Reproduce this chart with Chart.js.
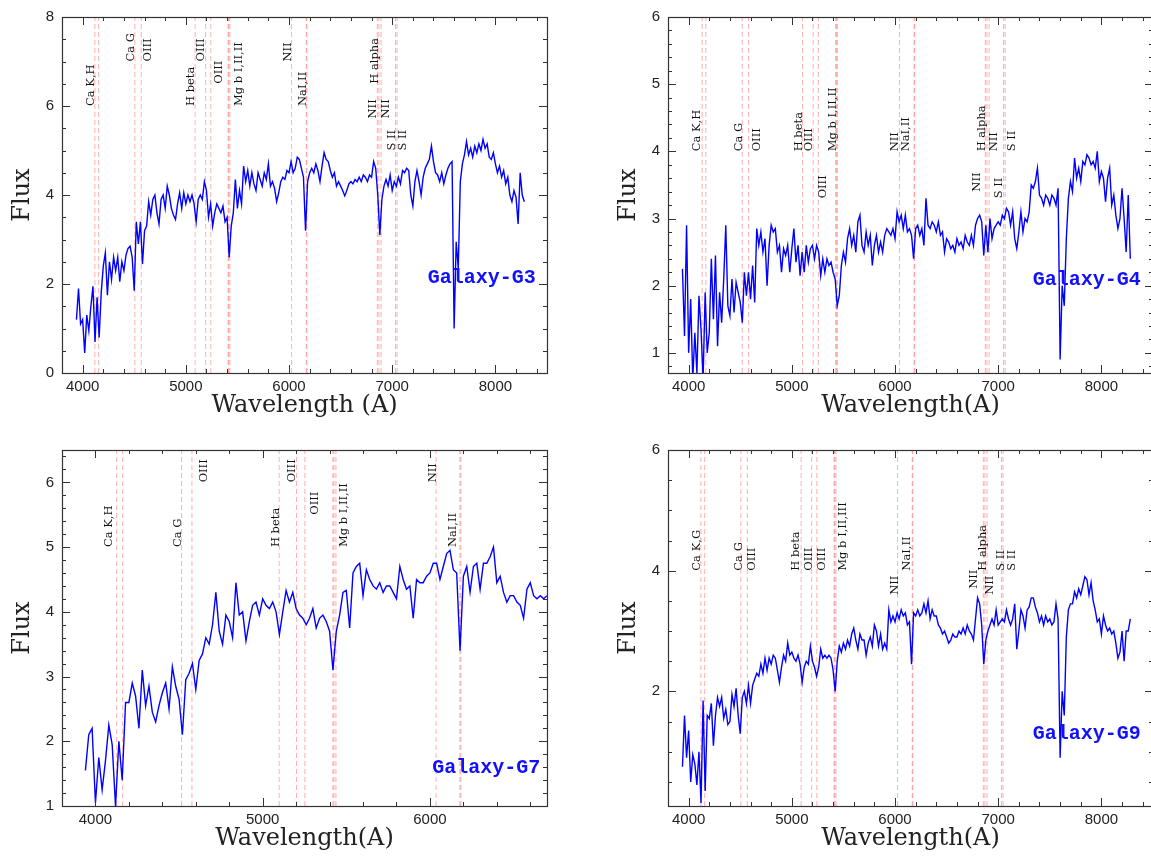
<!DOCTYPE html>
<html>
<head>
<meta charset="utf-8">
<script src="https://cdn.jsdelivr.net/npm/chart.js"></script>
<style>
  html, body { margin: 0; padding: 0; background: #fff; overflow: hidden; width: 1151px; height: 856px; }
  canvas { position: absolute; }
</style>
</head>
<body>
<canvas id="g3" width="560" height="423" style="left:0;top:0"></canvas>
<canvas id="g4" width="560" height="423" style="left:606px;top:0"></canvas>
<canvas id="g7" width="560" height="423" style="left:0;top:433px"></canvas>
<canvas id="g9" width="560" height="423" style="left:606px;top:433px"></canvas>
<script>
const waveStart = 3940;
const waveStep = 20;

const fluxG3 = [
  1.2, 1.9, 1.1, 1.2, 0.45, 1.3, 0.95, 1.5, 1.95, 0.7,      // 3940
  1.7, 0.8, 1.8, 2.4, 2.7, 1.75, 2.5, 2.1, 2.6, 2.3,        // 4140
  2.6, 2.05, 2.5, 2.3, 2.65, 2.8, 2.85, 2.6, 1.85, 3.4,     // 4340
  2.9, 3.4, 2.45, 3.2, 3.3, 3.85, 3.55, 3.9, 4.0, 3.6,      // 4540
  3.35, 3.9, 4.0, 3.7, 4.2, 4.0, 3.7, 3.55, 3.45, 3.8,      // 4740
  4.05, 3.7, 4.05, 3.8, 4.0, 3.85, 4.0, 3.8, 3.4, 3.9,      // 4940
  4.0, 3.9, 4.3, 4.1, 3.5, 3.8, 3.3, 3.6, 3.8, 3.7,         // 5140
  3.6, 3.75, 3.4, 3.5, 2.6, 3.3, 3.6, 4.35, 3.7, 4.1,       // 5340
  3.8, 4.65, 4.3, 4.55, 4.2, 4.5, 4.25, 4.1, 4.5, 4.35,     // 5540
  4.2, 4.5, 4.35, 4.7, 4.2, 4.3, 4.15, 3.85, 4.05, 4.3,     // 5740
  4.4, 4.35, 4.55, 4.5, 4.75, 4.5, 4.6, 4.85, 4.8, 4.6,     // 5940
  4.4, 3.2, 4.3, 4.5, 4.6, 4.5, 4.7, 4.55, 4.3, 4.65,       // 6140
  4.95, 4.8, 4.75, 4.55, 4.4, 4.5, 4.2, 4.3, 4.2, 4.1,      // 6340
  3.98, 4.1, 4.25, 4.3, 4.25, 4.35, 4.3, 4.4, 4.3, 4.45,    // 6540
  4.4, 4.3, 4.45, 4.4, 4.75, 4.6, 4.0, 3.1, 3.9, 4.2,       // 6740
  4.35, 4.2, 4.45, 4.1, 4.3, 4.2, 4.4, 4.25, 4.55, 4.5,     // 6940
  4.6, 4.55, 4.0, 3.75, 4.3, 4.55, 4.3, 4.0, 4.4, 4.6,      // 7140
  4.7, 4.8, 5.1, 4.75, 4.5, 4.45, 4.3, 4.5, 4.25, 4.45,     // 7340
  4.6, 4.7, 4.75, 1.0, 2.95, 2.35, 4.3, 4.7, 4.9, 5.2,      // 7540
  4.9, 5.05, 4.85, 5.1, 4.95, 5.15, 5.0, 5.25, 5.05, 5.15,  // 7740
  4.85, 4.8, 4.95, 4.7, 4.5, 4.65, 4.4, 4.55, 4.25, 4.4,    // 7940
  4.0, 3.85, 4.1, 3.95, 3.35, 4.5, 4.0, 3.85                // 8140
];

const fluxG4 = [
  2.25, 1.25, 2.9, 1.0, 1.8, 0.6, 1.3, 0.7, 1.85, 1.35,     // 3940
  0.6, 1.9, 1.0, 1.3, 2.4, 1.5, 2.45, 1.1, 1.9, 1.45,       // 4140
  2.1, 2.9, 1.7, 1.55, 2.1, 1.6, 2.05, 1.9, 1.75, 1.45,     // 4340
  2.2, 1.85, 2.2, 1.8, 2.3, 1.75, 2.85, 2.6, 2.8, 2.5,      // 4540
  2.7, 2.0, 2.6, 2.9, 2.8, 2.85, 2.5, 2.6, 2.2, 2.55,       // 4740
  2.45, 2.6, 2.2, 2.55, 2.85, 2.35, 2.6, 2.15, 2.5, 2.2,    // 4940
  2.6, 2.35, 2.55, 2.6, 2.4, 2.6, 2.5, 2.15, 2.4, 2.2,      // 5140
  2.4, 2.3, 2.35, 2.2, 2.1, 1.7, 1.85, 2.3, 2.5, 2.35,      // 5340
  2.7, 2.85, 2.6, 2.75, 2.5, 2.95, 3.05, 2.6, 2.5, 2.8,     // 5540
  2.6, 2.75, 2.3, 2.6, 2.75, 2.5, 2.65, 2.5, 2.75, 2.85,    // 5740
  2.8, 2.75, 2.85, 2.7, 3.1, 2.95, 3.05, 2.85, 3.05, 2.8,   // 5940
  2.85, 2.75, 2.4, 2.85, 2.9, 2.75, 2.85, 2.6, 3.3, 2.9,    // 6140
  2.85, 2.95, 2.9, 2.8, 2.95, 2.75, 2.8, 2.5, 2.7, 2.65,    // 6340
  2.55, 2.6, 2.5, 2.7, 2.6, 2.65, 2.55, 2.75, 2.65, 2.6,    // 6540
  2.75, 2.6, 2.9, 3.0, 3.05, 2.95, 2.45, 2.9, 2.5, 3.0,     // 6740
  2.7, 2.85, 2.9, 2.95, 2.9, 3.05, 3.0, 3.15, 3.1, 2.9,     // 6940
  3.1, 2.7, 2.55, 2.8, 3.1, 2.8, 3.0, 2.95, 3.1, 3.5,       // 7140
  3.45, 3.55, 3.75, 3.35, 3.3, 3.2, 3.35, 3.3, 3.2, 3.35,   // 7340
  3.3, 3.2, 3.45, 0.9, 2.0, 1.7, 2.7, 3.3, 3.55, 3.4,       // 7540
  3.9, 3.6, 3.75, 3.55, 3.85, 3.8, 3.95, 3.9, 3.8, 3.85,    // 7740
  3.75, 4.0, 3.55, 3.7, 3.6, 3.25, 3.6, 3.75, 3.2, 3.35,    // 7940
  3.05, 2.85, 3.0, 3.45, 3.0, 2.5, 3.35, 2.4                // 8140
];

const fluxG7 = [
  1.55, 2.1, 2.2, 1.05, 1.75, 1.25, 1.7, 2.25, 1.95, 1.0,   // 3940
  2.0, 1.4, 2.6, 2.6, 2.9, 2.7, 2.2, 3.1, 2.55, 2.85,       // 4140
  2.45, 2.3, 2.55, 2.75, 2.9, 2.5, 3.15, 2.85, 2.65, 2.1,   // 4340
  2.95, 3.05, 3.2, 2.8, 3.25, 3.35, 3.6, 3.5, 3.8, 4.3,     // 4540
  3.7, 3.5, 3.95, 3.85, 3.6, 4.45, 3.95, 4.0, 3.55, 3.85,   // 4740
  4.1, 4.15, 3.95, 4.2, 4.1, 4.05, 4.15, 4.0, 3.65, 4.0,    // 4940
  4.33, 4.15, 4.3, 4.05, 3.95, 3.9, 3.8, 3.9, 4.05, 3.75,   // 5140
  3.9, 3.95, 3.85, 3.7, 3.1, 3.7, 3.95, 4.3, 4.33, 3.75,    // 5340
  4.6, 4.7, 4.75, 4.25, 4.65, 4.5, 4.4, 4.35, 4.45, 4.3,    // 5540
  4.4, 4.4, 4.3, 4.2, 4.7, 4.5, 4.35, 4.4, 3.9, 4.5,        // 5740
  4.45, 4.45, 4.55, 4.6, 4.75, 4.75, 4.5, 4.7, 4.9, 4.95,   // 5940
  4.65, 4.6, 3.4, 4.55, 4.7, 4.3, 4.7, 4.75, 4.35, 4.75,    // 6140
  4.75, 4.85, 5.0, 4.45, 4.55, 4.3, 4.15, 4.25, 4.25, 4.15, // 6340
  4.1, 3.9, 4.35, 4.45, 4.25, 4.2, 4.25, 4.2, 4.25, 4.2     // 6540
];

const fluxG9 = [
  0.75, 1.6, 0.9, 1.35, 0.5, 0.95, 0.8, 0.45, 1.0, 0.15,    // 3940
  1.85, 0.35, 1.6, 1.55, 1.8, 1.1, 1.6, 1.9, 1.75, 1.9,     // 4140
  1.55, 1.7, 1.45, 1.5, 1.95, 1.75, 2.05, 1.6, 1.3, 1.9,    // 4340
  2.0, 1.8, 2.1, 1.8, 2.1, 2.2, 2.3, 2.25, 2.45, 2.3,       // 4540
  2.55, 2.35, 2.55, 2.45, 2.6, 2.55, 2.35, 2.15, 2.4, 2.6,  // 4740
  2.5, 2.8, 2.6, 2.65, 2.55, 2.5, 2.6, 2.45, 2.15, 2.4,     // 4940
  2.5, 2.45, 2.75, 2.5, 2.4, 2.25, 2.4, 2.7, 2.55, 2.6,     // 5140
  2.55, 2.6, 2.55, 2.35, 2.0, 2.5, 2.75, 2.65, 2.8, 2.7,    // 5340
  2.85, 2.75, 2.95, 3.05, 2.85, 2.7, 2.95, 2.85, 2.85, 2.6, // 5540
  2.8, 2.9, 2.75, 3.1, 3.0, 2.75, 2.95, 2.7, 2.8, 2.7,      // 5740
  3.35, 3.15, 3.25, 3.15, 3.3, 3.2, 3.35, 3.25, 3.3, 3.1,   // 5940
  3.15, 2.45, 3.3, 3.25, 3.35, 3.25, 3.3, 3.45, 3.3, 3.5,   // 6140
  3.2, 3.35, 3.25, 3.25, 3.1, 3.05, 2.95, 3.0, 2.9, 2.8,    // 6340
  2.85, 2.95, 2.9, 2.9, 3.0, 2.95, 3.05, 2.95, 3.1, 3.0,    // 6540
  2.95, 2.85, 3.2, 3.55, 3.45, 3.1, 2.45, 2.85, 3.0, 3.1,   // 6740
  3.2, 3.1, 3.35, 3.1, 3.15, 3.2, 3.15, 3.35, 3.2, 3.1,     // 6940
  3.2, 3.45, 2.7, 3.0, 3.35, 3.25, 3.05, 3.35, 3.4, 3.55,   // 7140
  3.55, 3.4, 3.3, 3.15, 3.25, 3.1, 3.25, 3.15, 3.2, 3.1,    // 7340
  3.15, 3.45, 3.2, 0.9, 2.0, 1.6, 2.9, 3.35, 3.45, 3.45,    // 7540
  3.65, 3.55, 3.7, 3.6, 3.75, 3.9, 3.85, 3.6, 3.8, 3.5,     // 7740
  3.35, 3.15, 3.2, 2.95, 3.25, 3.1, 3.0, 3.05, 2.95, 3.0,   // 7940
  2.8, 2.55, 2.65, 3.0, 2.5, 3.0, 3.0, 3.2                  // 8140
];

/* observed wavelengths of the marked lines (dashed) */
const linesG3 = [4119, 4155, 4506, 4568, 5090, 5192, 5242, 5410, 5416, 5427, 6025, 6167, 6173, 6856, 6871, 6892, 7032, 7047];
const linesG4 = [4131, 4167, 4519, 4581, 5104, 5207, 5257, 5425, 5432, 5443, 6043, 6185, 6191, 6875, 6891, 6912, 7052, 7068];
const linesG7 = [4127, 4163, 4515, 4577, 5099, 5202, 5252, 5420, 5426, 5438, 6037, 6179, 6185];
const linesG9 = [4119, 4155, 4506, 4568, 5090, 5192, 5242, 5410, 5416, 5427, 6025, 6167, 6173, 6856, 6871, 6892, 7032, 7047];

/* line names: [text, wavelength, flux where the text starts] */
const labelsG3 = [
  ['Ca K,H', 4083, 6.0], ['Ca G', 4468, 7.0], ['OIII', 4631, 7.0], ['H beta', 5054, 6.0],
  ['OIII', 5144, 7.0], ['OIII', 5324, 6.5], ['Mg b I,II,II', 5515, 6.0], ['NII', 5986, 7.0],
  ['NaI,II', 6132, 6.0], ['H alpha', 6832, 6.5], ['NII', 6815, 5.72], ['NII', 6936, 5.72],
  ['S II', 6995, 5.0], ['S II', 7109, 5.0]
];
const labelsG4 = [
  ['Ca K,H', 4078, 4.0], ['Ca G', 4490, 4.0], ['OIII', 4667, 4.0], ['H beta', 5065, 4.0],
  ['OIII', 5171, 4.0], ['Mg b I,II,II', 5400, 4.0], ['NII', 6000, 4.0], ['NaI,II', 6106, 4.0],
  ['H alpha', 6847, 4.0], ['NII', 6959, 4.0], ['S II', 7129, 4.0],
  ['OIII', 5305, 3.3], ['NII', 6794, 3.4], ['S II', 7012, 3.3]
];
const labelsG7 = [
  ['Ca K,H', 4079, 5.0], ['Ca G', 4491, 5.0], ['OIII', 4652, 6.0], ['H beta', 5077, 5.0],
  ['OIII', 5174, 6.0], ['OIII', 5313, 5.5], ['Mg b I,II,II', 5489, 5.0], ['NII', 6017, 6.0],
  ['NaI,II', 6139, 5.0]
];
const labelsG9 = [
  ['Ca K,G', 4078, 4.0], ['Ca G', 4490, 4.0], ['OIII', 4617, 4.0], ['H beta', 5041, 4.0],
  ['OIII', 5171, 4.0], ['OIII', 5295, 4.0], ['Mg b I,II,III', 5496, 4.0], ['NII', 6000, 3.6],
  ['NaI,II', 6113, 4.0], ['NII', 6765, 3.7], ['H alpha', 6854, 4.0], ['NII', 6924, 3.6],
  ['S II', 7023, 4.0], ['S II', 7129, 4.0]
];

const galaxyNames = ['Galaxy-G3', 'Galaxy-G4', 'Galaxy-G7', 'Galaxy-G9'];
const galaxyNameAt = [[8392, 2.14], [8381, 2.08], [6660, 1.58], [8381, 1.29]];

/* axis tick labels */
const xTicksWide = [4000, 5000, 6000, 7000, 8000];
const xTicksG7 = [4000, 5000, 6000];
const yTicksG3 = [0, 2, 4, 6, 8];
const yTicksG4 = [1, 2, 3, 4, 5, 6];
const yTicksG7 = [1, 2, 3, 4, 5, 6];
const yTicksG9 = [2, 4, 6];

const panels = [
  { id: 'g3', flux: fluxG3, lines: linesG3, labels: labelsG3, n: 0, xMin: 3800, xMax: 8500, yMin: 0, yMax: 8,
    xMajor: xTicksWide, yMajor: yTicksG3, yMinorStep: 0.5, xTitle: 'Wavelength (A)' },
  { id: 'g4', flux: fluxG4, lines: linesG4, labels: labelsG4, n: 1, xMin: 3800, xMax: 8500, yMin: 0.7, yMax: 6,
    xMajor: xTicksWide, yMajor: yTicksG4, yMinorStep: 0.2, xTitle: 'Wavelength(A)' },
  { id: 'g7', flux: fluxG7, lines: linesG7, labels: labelsG7, n: 2, xMin: 3800, xMax: 6700, yMin: 1, yMax: 6.5,
    xMajor: xTicksG7, yMajor: yTicksG7, yMinorStep: 0.2, xTitle: 'Wavelength(A)' },
  { id: 'g9', flux: fluxG9, lines: linesG9, labels: labelsG9, n: 3, xMin: 3800, xMax: 8500, yMin: 0.1, yMax: 6,
    xMajor: xTicksWide, yMajor: yTicksG9, yMinorStep: 0.5, xTitle: 'Wavelength(A)' }
];

// frame with inward ticks on all four sides, line names and galaxy name
function framePlugin(p) {
  return {
    id: 'frame' + p.n,
    afterDatasetsDraw(chart) {
      const { ctx, chartArea: a, scales: { x, y } } = chart;
      ctx.save();
      ctx.strokeStyle = '#333';
      ctx.lineWidth = 1.2;
      ctx.strokeRect(a.left + 0.5, a.top + 0.5, a.right - a.left, a.bottom - a.top);

      const xTick = (v, len) => {
        const px = Math.round(x.getPixelForValue(v)) + 0.5;
        ctx.beginPath();
        ctx.moveTo(px, a.bottom); ctx.lineTo(px, a.bottom - len);
        ctx.moveTo(px, a.top); ctx.lineTo(px, a.top + len);
        ctx.stroke();
      };
      const yTick = (v, len) => {
        const py = Math.round(y.getPixelForValue(v)) + 0.5;
        ctx.beginPath();
        ctx.moveTo(a.left, py); ctx.lineTo(a.left + len, py);
        ctx.moveTo(a.right, py); ctx.lineTo(a.right - len, py);
        ctx.stroke();
      };
      ctx.lineWidth = 1;
      for (let k = Math.ceil(p.xMin / 200); k * 200 <= p.xMax; k++) {
        const v = k * 200;
        xTick(v, p.xMajor.includes(v) ? 8 : 4);
      }
      for (let k = Math.ceil(p.yMin / p.yMinorStep - 1e-6); k * p.yMinorStep <= p.yMax + 1e-6; k++) {
        const v = +(k * p.yMinorStep).toFixed(3);
        if (v <= p.yMin + 1e-6 || v >= p.yMax - 1e-6) continue;
        yTick(v, p.yMajor.includes(v) ? 8 : 4);
      }

      // line names, rotated, reading upwards
      ctx.fillStyle = '#111';
      ctx.font = '11.5px "DejaVu Serif"';
      ctx.textAlign = 'left';
      ctx.textBaseline = 'middle';
      p.labels.forEach(([t, w, f]) => {
        ctx.save();
        ctx.translate(x.getPixelForValue(w), y.getPixelForValue(f));
        ctx.rotate(-Math.PI / 2);
        ctx.fillText(t, 0, 0);
        ctx.restore();
      });

      const [nw, nf] = galaxyNameAt[p.n];
      ctx.fillStyle = '#1010ff';
      ctx.font = 'bold 20px "Liberation Mono"';
      ctx.textAlign = 'right';
      ctx.fillText(galaxyNames[p.n], x.getPixelForValue(nw), y.getPixelForValue(nf));
      ctx.restore();
    }
  };
}

function buildChart(p) {
  const spectrum = p.flux.map((f, i) => ({ x: waveStart + i * waveStep, y: f }));
  const datasets = [{
    data: spectrum, borderColor: '#0000ff', borderWidth: 1.4,
    pointRadius: 0, tension: 0, order: 0
  }];
  p.lines.forEach(w => {
    datasets.push({
      data: [{ x: w, y: p.yMin }, { x: w, y: p.yMax }],
      borderColor: 'rgba(255,110,110,0.55)', borderWidth: 1, borderDash: [5, 3],
      pointRadius: 0, order: 1
    });
  });

  const tickFont = { family: '"Liberation Sans", Arial, sans-serif', size: 15 };
  const titleFont = { family: '"DejaVu Serif", serif', size: 24 };

  new Chart(document.getElementById(p.id), {
    type: 'line',
    data: { datasets },
    options: {
      responsive: false,
      animation: false,
      events: [],
      layout: { padding: { top: 12, right: 13, left: 0, bottom: 0 } },
      plugins: { legend: { display: false }, tooltip: { enabled: false } },
      scales: {
        x: {
          type: 'linear', min: p.xMin, max: p.xMax,
          grid: { display: false, drawTicks: false }, border: { display: false },
          ticks: { color: '#222', font: tickFont, padding: 5, autoSkip: false, maxRotation: 0,
                   callback: v => String(v) },
          afterBuildTicks: s => { s.ticks = p.xMajor.map(v => ({ value: v })); },
          afterFit: s => { s.height = 50; },
          title: { display: true, text: p.xTitle, color: '#222', font: titleFont, padding: { top: 0, bottom: 3 } }
        },
        y: {
          min: p.yMin, max: p.yMax,
          grid: { display: false, drawTicks: false }, border: { display: false },
          ticks: { color: '#222', font: tickFont, padding: 8, autoSkip: false, callback: v => String(v) },
          afterBuildTicks: s => { s.ticks = p.yMajor.map(v => ({ value: v })); },
          afterFit: s => { s.width = 62; },
          title: { display: true, text: 'Flux', color: '#222', font: titleFont, padding: { top: 8, bottom: 0 } }
        }
      }
    },
    plugins: [framePlugin(p)]
  });
}

panels.forEach(buildChart);
</script>
</body>
</html>
